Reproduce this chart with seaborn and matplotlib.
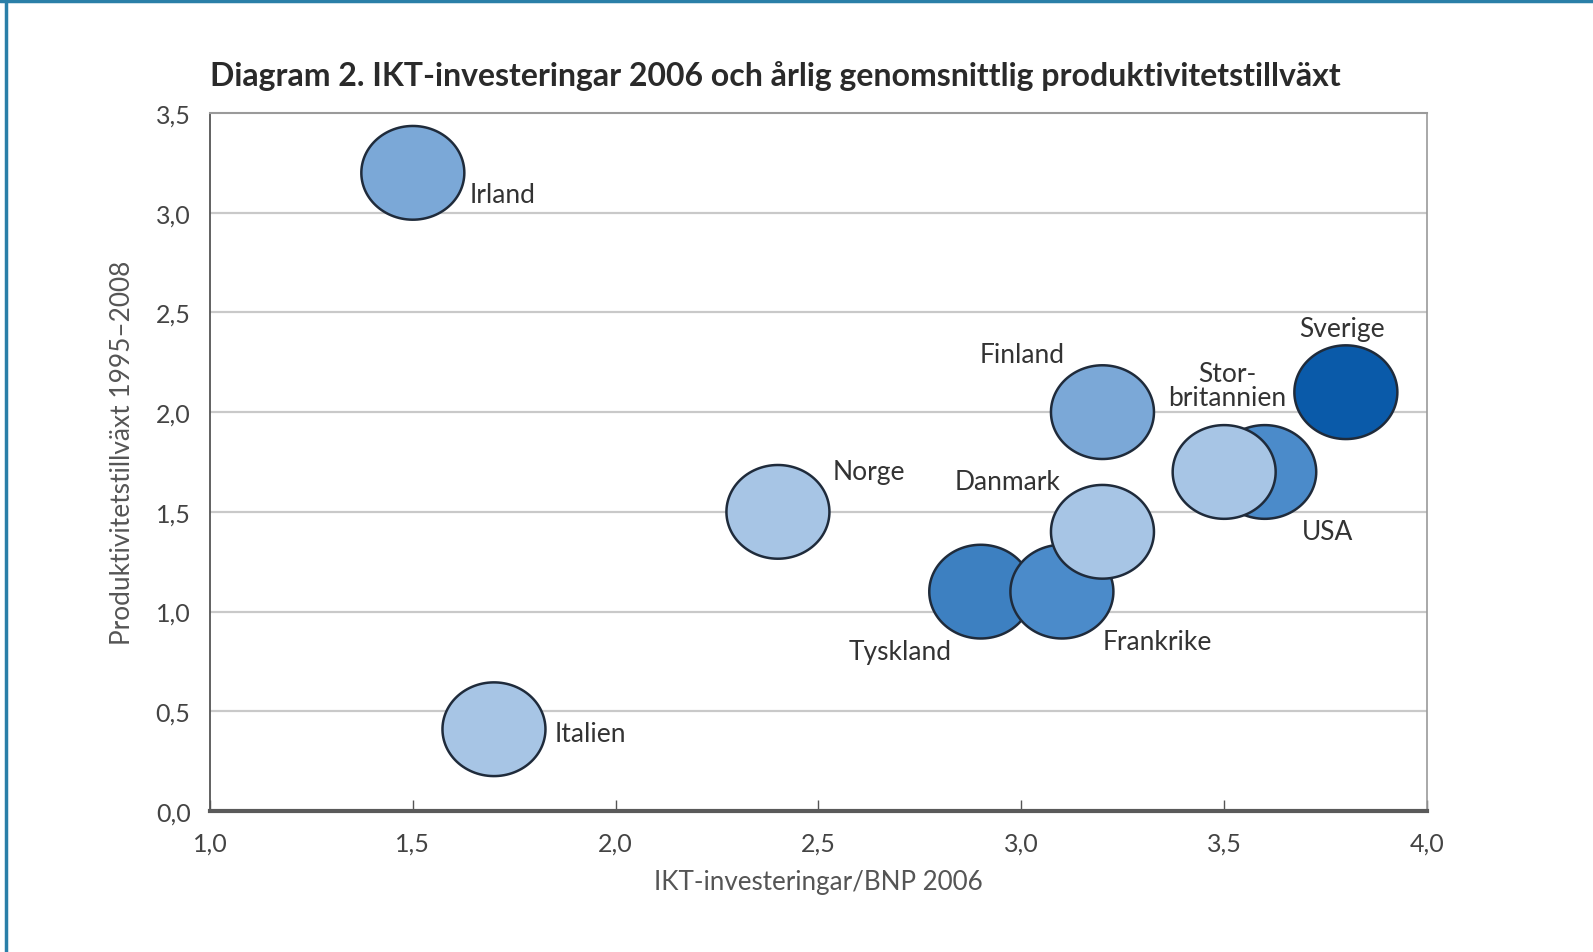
import numpy as np
import pandas as pd
import matplotlib
matplotlib.use("Agg")
import matplotlib.pyplot as plt
from matplotlib.path import Path
from matplotlib.markers import MarkerStyle
from matplotlib.lines import Line2D
import seaborn as sns

# ---- data ----
countries = ["Irland", "Italien", "Norge", "Tyskland", "Frankrike", "Danmark",
             "Finland", "USA", "Storbritannien", "Sverige"]
ikt_invest = [1.5, 1.7, 2.4, 2.9, 3.1, 3.2, 3.2, 3.6, 3.5, 3.8]
prod_growth = [3.2, 0.41, 1.5, 1.1, 1.1, 1.4, 2.0, 1.7, 1.7, 2.1]
colors = ["#7ba8d7", "#a7c5e5", "#a7c5e5", "#3d80c1", "#4b8bca", "#a7c5e5",
          "#7ba8d7", "#4b8bca", "#a7c5e5", "#0a5aa9"]
labels = ["Irland", "Italien", "Norge", "Tyskland", "Frankrike", "Danmark",
          "Finland", "USA", "Stor-\nbritannien", "Sverige"]
label_x = [1.64, 1.85, 2.535, 2.575, 3.20, 2.836, 2.898, 3.692, 3.507, 3.79]
label_y = [3.09, 0.39, 1.70, 0.80, 0.85, 1.65, 2.29, 1.40, 2.135, 2.42]
label_ha = ["left", "left", "left", "left", "left", "left", "left", "left", "center", "center"]
x_ticks = [1.0, 1.5, 2.0, 2.5, 3.0, 3.5, 4.0]
y_ticks = [0.0, 0.5, 1.0, 1.5, 2.0, 2.5, 3.0, 3.5]
title = "Diagram 2. IKT-investeringar 2006 och årlig genomsnittlig produktivitetstillväxt"
xlabel = "IKT-investeringar/BNP 2006"
ylabel = "Produktivitetstillväxt 1995–2008"

df = pd.DataFrame({"land": countries, "x": ikt_invest, "y": prod_growth})
palette = dict(zip(countries, colors))

sns.set_theme(style="white")
plt.rcParams["font.family"] = ["Lato", "DejaVu Sans"]

W, H = 1593, 953
fig = plt.figure(figsize=(W / 100, H / 100), dpi=100)
ax = fig.add_axes([210 / W, 1 - 812 / H, (1427 - 210) / W, (812 - 114) / H])

# ellipse marker
t = np.linspace(0, 2 * np.pi, 120)
verts = np.column_stack([0.5 * np.cos(t), 0.455 * np.sin(t)])
ell = MarkerStyle(Path(verts, closed=True))

ax.set_xlim(1.0, 4.0)
ax.set_ylim(0.0, 3.5)
for yv in y_ticks[1:-1]:
    ax.axhline(yv, color="#c9c9c9", lw=1.6, zorder=0)

sns.scatterplot(data=df, x="x", y="y", hue="land", palette=palette, marker=ell,
                s=5500, edgecolor="#1f2b3b", linewidth=1.8, legend=False,
                ax=ax, zorder=3)

for lab, lx, ly, ha in zip(labels, label_x, label_y, label_ha):
    ax.text(lx, ly, lab, ha=ha, va="center", fontsize=19, color="#333333",
            multialignment="center", linespacing=0.95, zorder=4)

ax.set_xticks(x_ticks)
ax.set_yticks(y_ticks)
ax.set_xticklabels([f"{v:.1f}".replace(".", ",") for v in x_ticks])
ax.set_yticklabels([f"{v:.1f}".replace(".", ",") for v in y_ticks])
ax.tick_params(axis="x", direction="in", length=8, width=1, color="#555555",
               labelsize=18, labelcolor="#444444", pad=15, bottom=True)
ax.tick_params(axis="y", length=0, labelsize=18, labelcolor="#444444", pad=14, left=False)

ax.set_xlabel(xlabel, fontsize=18.7, color="#555555", labelpad=10)
ax.set_ylabel(ylabel, fontsize=18.9, color="#555555")
ax.yaxis.set_label_coords(-0.062, 0.515)

for side, c, lw in [("top", "#9a9a9a", 1.5), ("right", "#9a9a9a", 1.2),
                    ("left", "#555555", 1.3), ("bottom", "#5a5a5a", 3.0)]:
    ax.spines[side].set_visible(True)
    ax.spines[side].set_color(c)
    ax.spines[side].set_linewidth(lw)

fig.text(210 / W, 1 - 76 / H, title, fontsize=23, fontweight="bold",
         color="#2a2a2a", ha="left", va="center")

# frame lines (top and left)
fig.add_artist(Line2D([6 / W, 6 / W], [0, 1], transform=fig.transFigure,
                      color="#2a7fa8", lw=2.5))
fig.add_artist(Line2D([0, 1], [1 - 1.5 / H, 1 - 1.5 / H], transform=fig.transFigure,
                      color="#2a7fa8", lw=2.5))

fig.savefig("out.png", dpi=100)
